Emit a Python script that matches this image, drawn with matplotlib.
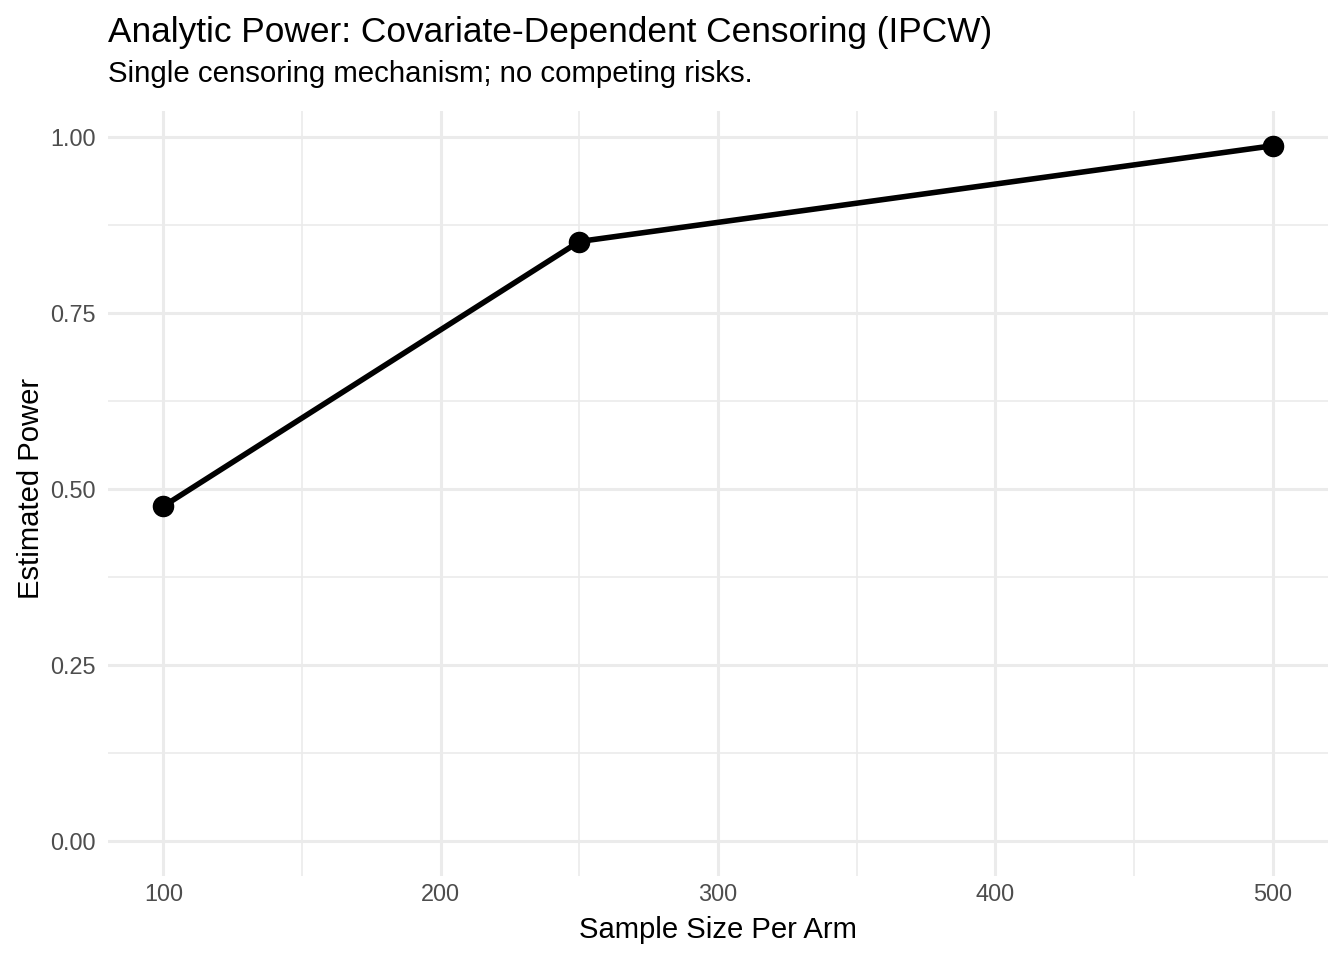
import numpy as np
import matplotlib
matplotlib.use('agg')
import matplotlib.pyplot as plt

plt.rcParams['font.family'] = ['Liberation Sans', 'DejaVu Sans']

sample_size = [100, 250, 500]
power = [0.476, 0.852, 0.988]
x_ticks = [100, 200, 300, 400, 500]
y_ticks = [0.00, 0.25, 0.50, 0.75, 1.00]

fig = plt.figure(figsize=(13.44, 9.6), dpi=100)
ax = fig.add_axes([108/1344, 1-876/960, (1328-108)/1344, (876-111)/960])

xr = max(sample_size) - min(sample_size)
ax.set_xlim(min(sample_size) - 0.05*xr, max(sample_size) + 0.05*xr)
yr = max(power) - 0
ax.set_ylim(0 - 0.05*yr, max(power) + 0.05*yr)

ax.set_xticks(x_ticks)
ax.set_yticks(y_ticks)
ax.set_yticklabels(["%.2f" % v for v in y_ticks])
ax.set_xticks([150, 250, 350, 450], minor=True)
ax.set_yticks([0.125, 0.375, 0.625, 0.875], minor=True)

ax.grid(which='major', color='#EBEBEB', lw=2.2)
ax.grid(which='minor', color='#EBEBEB', lw=1.2)
ax.set_axisbelow(True)
for s in ax.spines.values():
    s.set_visible(False)
ax.tick_params(which='both', length=0)
ax.tick_params(axis='x', labelsize=16.9, colors='#4D4D4D', pad=5)
ax.tick_params(axis='y', labelsize=16.9, colors='#4D4D4D', pad=9)

ax.plot(sample_size, power, color='black', lw=4.0, zorder=3)
ax.plot(sample_size, power, 'o', color='black', ms=14.5, zorder=4)

ax.set_xlabel('Sample Size Per Arm', fontsize=21.1)
ax.set_ylabel('Estimated Power', fontsize=21.1)
ax.xaxis.set_label_coords((718-108)/1220, -(930-876)/765)
ax.yaxis.set_label_coords(-(108-31)/1220, (876-488)/765)
ax.xaxis.label.set_va('center')
ax.yaxis.label.set_va('center')

fig.text(108/1344, 1-42/960, 'Analytic Power: Covariate-Dependent Censoring (IPCW)', fontsize=25.4)
fig.text(108/1344, 1-82/960, 'Single censoring mechanism; no competing risks.', fontsize=21.2)

fig.savefig('out.png', dpi=100, facecolor='white')
